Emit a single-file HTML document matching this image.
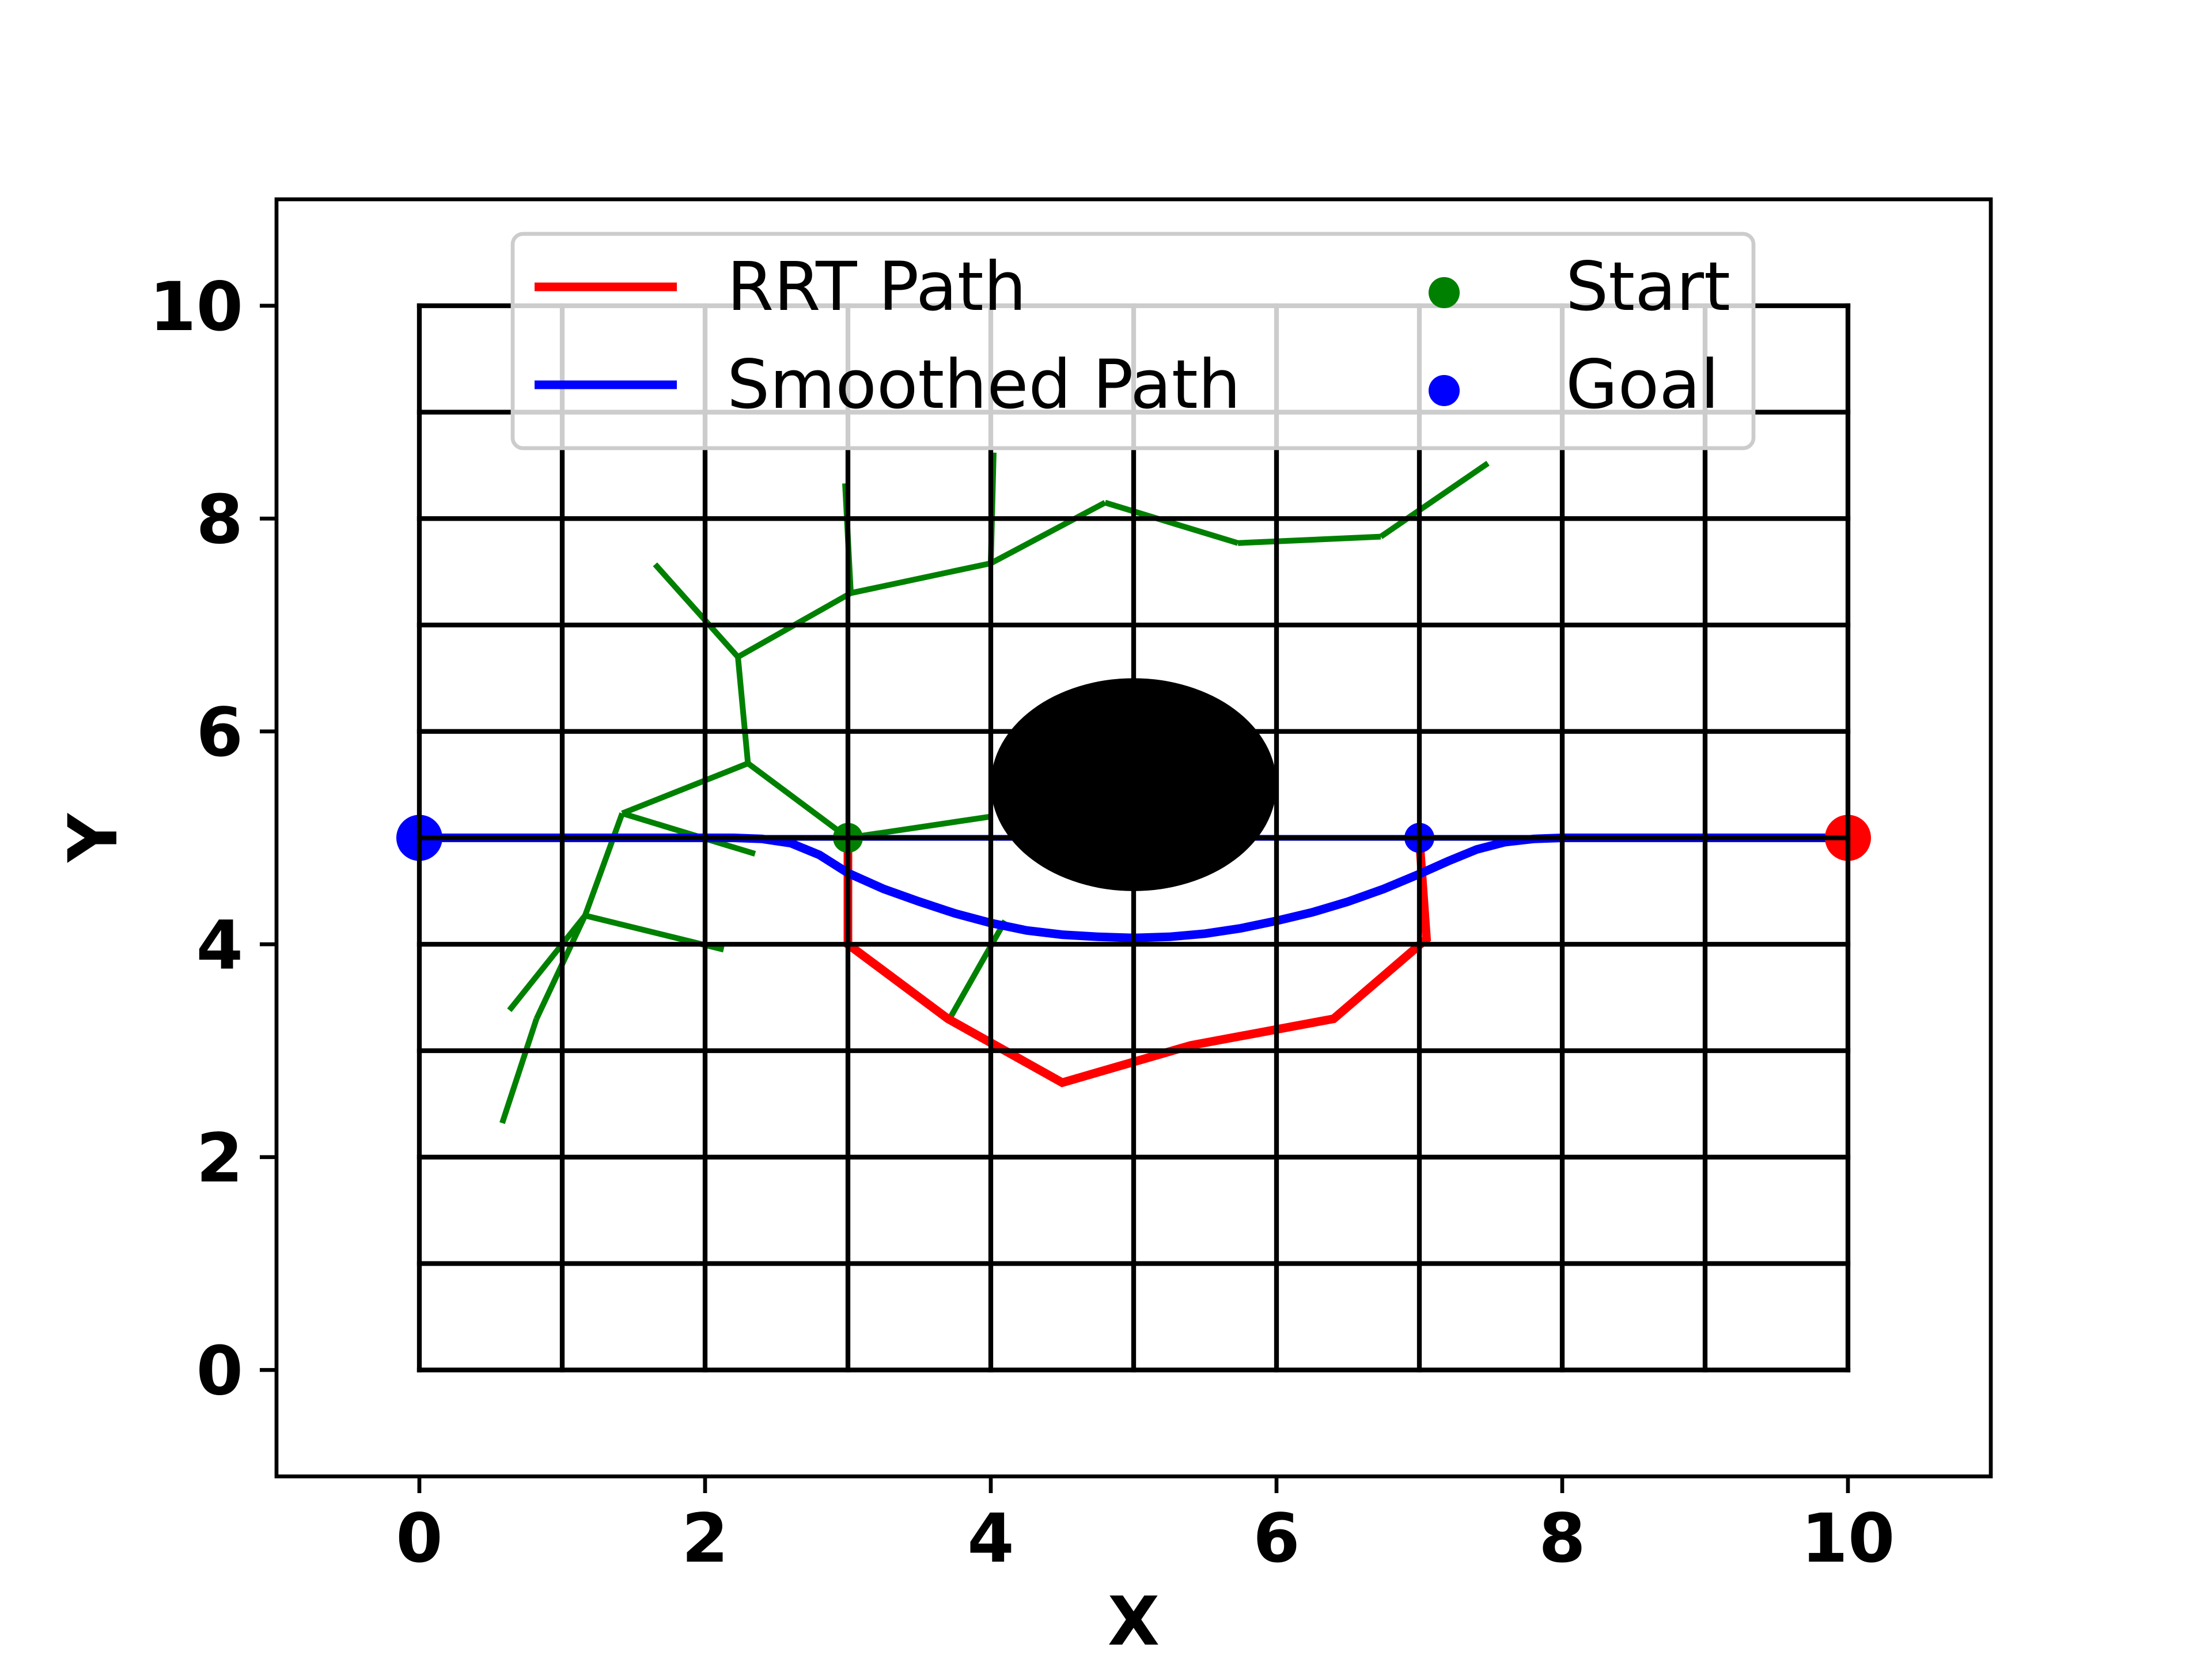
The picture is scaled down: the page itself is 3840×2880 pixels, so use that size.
<!DOCTYPE html>
<html><head><meta charset="utf-8"><style>
html,body{margin:0;padding:0;background:#fff;}
svg{display:block;font-family:"DejaVu Sans","Liberation Sans",sans-serif;}
</style></head><body>
<svg id="chart" width="3840" height="2880" viewBox="0 0 3840 2880" xmlns="http://www.w3.org/2000/svg">
<rect width="3840" height="2880" fill="#fff"/>
<g id="plot"></g>
</svg>
<script>
const xTicks = [0, 2, 4, 6, 8, 10];
const yTicks = [0, 2, 4, 6, 8, 10];
const gridVals = [0,1,2,3,4,5,6,7,8,9,10];
const rrtX = [7, 7.05, 6.4, 5.4, 4.5, 3.7, 3, 3];
const rrtY = [5, 4.05, 3.3, 3.05, 2.7, 3.3, 4, 5];
const straightX = [0, 10];
const straightY = [5, 5];
const smoothX = [0, 1, 2, 2.2, 2.4, 2.6, 2.8, 3, 3.25, 3.5, 3.75, 4, 4.25, 4.5, 4.75, 5, 5.25, 5.5, 5.75, 6, 6.25, 6.5, 6.75, 7, 7.2, 7.4, 7.6, 7.8, 8, 9, 10];
const smoothY = [5, 5, 5, 5, 4.99, 4.95, 4.84, 4.67, 4.52, 4.4, 4.29, 4.2, 4.13, 4.09, 4.07, 4.06, 4.07, 4.1, 4.15, 4.22, 4.3, 4.4, 4.52, 4.66, 4.78, 4.89, 4.96, 4.99, 5, 5, 5];
const treeX1 = [3, 3, 2.3, 1.42, 1.42, 1.16, 1.16, 1.16, 0.82, 2.3, 2.23, 2.23, 3.02, 3.02, 4, 4, 4.8, 5.73, 6.73, 3.72];
const treeY1 = [5, 5, 5.7, 5.23, 5.23, 4.27, 4.27, 4.27, 3.3, 5.7, 6.7, 6.7, 7.3, 7.3, 7.58, 7.58, 8.15, 7.77, 7.83, 3.32];
const treeX2 = [4, 2.3, 1.42, 2.35, 1.16, 2.13, 0.63, 0.82, 0.58, 2.23, 1.65, 3.02, 2.98, 4, 4.02, 4.8, 5.73, 6.73, 7.48, 4.1];
const treeY2 = [5.2, 5.7, 5.23, 4.85, 4.27, 3.95, 3.38, 3.3, 2.32, 6.7, 7.57, 7.3, 8.33, 7.58, 8.62, 8.15, 7.77, 7.83, 8.52, 4.22];
const obstacle = [5, 5.5, 1];
const startPt = [3, 5];
const goalPt = [7, 5];
const endA = [10, 5];
const endB = [0, 5];

const L=480, R=3456, T=346, B=2563;
const X = v => L + (v + 1) * (R - L) / 12;
const Y = v => B - (v + 1) * (B - T) / 12;
const NS = "http://www.w3.org/2000/svg";
const g = document.getElementById('plot');
function mk(tag, attrs, parent) {
  const e = document.createElementNS(NS, tag);
  for (const k in attrs) e.setAttribute(k, attrs[k]);
  (parent || g).appendChild(e);
  return e;
}
function poly(xs, ys){ return xs.map((x,i)=>X(x).toFixed(1)+','+Y(ys[i]).toFixed(1)).join(' '); }

for (let i = 0; i < treeX1.length; i++) {
  const e = mk('line', {x1:X(treeX1[i]), y1:Y(treeY1[i]), x2:X(treeX2[i]), y2:Y(treeY2[i]), stroke:'#008000', 'stroke-width':10});
  
  
}
let e;
e = mk('polyline', {points:poly(rrtX, rrtY), fill:'none', stroke:'#ff0000', 'stroke-width':15});


e = mk('polyline', {points:poly(smoothX, smoothY), fill:'none', stroke:'#0000ff', 'stroke-width':15});


e = mk('polyline', {points:poly(straightX, straightY), fill:'none', stroke:'#0000ff', 'stroke-width':10});


e = mk('circle', {cx:X(startPt[0]), cy:Y(startPt[1]), r:26, fill:'#008000'});


e = mk('circle', {cx:X(goalPt[0]), cy:Y(goalPt[1]), r:26, fill:'#0000ff'});


e = mk('circle', {cx:X(endA[0]), cy:Y(endA[1]), r:40, fill:'#ff0000'});


e = mk('circle', {cx:X(endB[0]), cy:Y(endB[1]), r:40, fill:'#0000ff'});



for (const v of gridVals) {
  e = mk('line', {x1:X(v), y1:Y(0), x2:X(v), y2:Y(10), stroke:'#000', 'stroke-width':8.3, 'stroke-linecap':'square'});
  
  
  e = mk('line', {x1:X(0), y1:Y(v), x2:X(10), y2:Y(v), stroke:'#000', 'stroke-width':8.3, 'stroke-linecap':'square'});
  
  
}
e = mk('ellipse', {cx:X(obstacle[0]), cy:Y(obstacle[1]), rx:obstacle[2]*(R-L)/12, ry:obstacle[2]*(B-T)/12, fill:'#000'});



e = mk('rect', {x:L, y:T, width:R-L, height:B-T, fill:'none', stroke:'#000', 'stroke-width':6.7});


for (const t of xTicks) {
  mk('line', {x1:X(t), y1:B, x2:X(t), y2:B+29, stroke:'#000', 'stroke-width':6.7});
  e = mk('text', {x:X(t), y:2711, 'text-anchor':'middle', 'font-size':117, 'font-weight':'bold'});
  e.textContent = t;
  
  
}
for (const t of yTicks) {
  mk('line', {x1:L-29, y1:Y(t), x2:L, y2:Y(t), stroke:'#000', 'stroke-width':6.7});
  e = mk('text', {x:L-58, y:Y(t)+42, 'text-anchor':'end', 'font-size':117, 'font-weight':'bold'});
  e.textContent = t;
  
  
}
e = mk('text', {x:(L+R)/2, y:2855, 'text-anchor':'middle', 'font-size':117, 'font-weight':'bold'});
e.textContent = 'X';


e = mk('text', {x:0, y:0, 'text-anchor':'middle', 'font-size':117, 'font-weight':'bold', transform:'translate(202,'+((T+B)/2)+') rotate(-90)'});
e.textContent = 'Y';



const lg = mk('g', {});


mk('rect', {x:890, y:406, width:2154, height:372, rx:18, fill:'#fff', 'fill-opacity':0.8, stroke:'#cccccc', 'stroke-width':6.7}, lg);
mk('line', {x1:928, y1:498, x2:1175, y2:498, stroke:'#ff0000', 'stroke-width':15}, lg);
mk('line', {x1:928, y1:668, x2:1175, y2:668, stroke:'#0000ff', 'stroke-width':15}, lg);
mk('circle', {cx:2507, cy:508, r:27, fill:'#008000'}, lg);
mk('circle', {cx:2507, cy:678, r:27, fill:'#0000ff'}, lg);
const labels = [['RRT Path',1262,538],['Smoothed Path',1262,708],['Start',2718,538],['Goal',2718,708]];
for (const [t,x,y] of labels) {
  e = mk('text', {x:x, y:y, 'font-size':117}, lg);
  e.textContent = t;
  
  
}
</script>
</body></html>
